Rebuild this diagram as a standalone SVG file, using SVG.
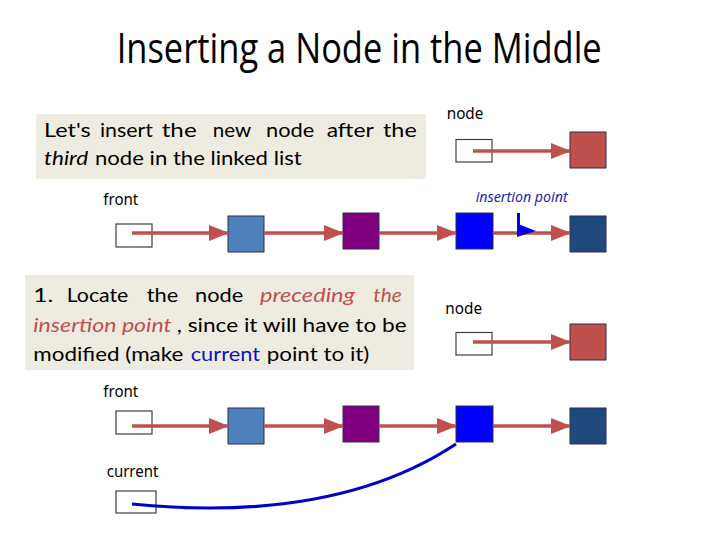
<svg xmlns="http://www.w3.org/2000/svg" width="720" height="540" viewBox="0 0 720 540">
<style>
.title{font-family:"Open Sans","Liberation Sans",sans-serif;font-size:42px;fill:#000}
.body{font-family:Lato,"Open Sans","Liberation Sans",sans-serif;font-size:20px;fill:#000}
.lbl{font-family:"Noto Sans","DejaVu Sans",sans-serif;font-size:16px;fill:#000}
.it{font-style:italic}
.red{fill:#C0504D}
.blu{fill:#1010C8}
.ptr{fill:#fff;stroke:#404040;stroke-width:1.2}
.nd{stroke:#2f2f4f;stroke-width:1}
.tb{fill:#EEECE1}
.arr{stroke:#C0504D;stroke-width:3.5;fill:none;marker-end:url(#ah)}
</style>
<defs>
<marker id="ah" markerUnits="userSpaceOnUse" markerWidth="20" markerHeight="16" viewBox="0 0 20 16" refX="19" refY="8" orient="auto">
<path d="M0,0 L20,8 L0,16 Z" fill="#C0504D"/>
</marker>
</defs>
<rect width="720" height="540" fill="#fff"/>
<text class="title" x="116.7" y="63" textLength="485" lengthAdjust="spacingAndGlyphs">Inserting a Node in the Middle</text>

<g id="textbox1">
<rect class="tb" x="36" y="114" width="390" height="65"/>
<text class="body" y="137"><tspan x="44" textLength="46.7" lengthAdjust="spacingAndGlyphs">Let's</tspan> <tspan x="100" textLength="53" lengthAdjust="spacingAndGlyphs">insert</tspan> <tspan x="161.7" textLength="35" lengthAdjust="spacingAndGlyphs">the</tspan> <tspan x="212.7" textLength="38" lengthAdjust="spacingAndGlyphs">new</tspan> <tspan x="266" textLength="48.3" lengthAdjust="spacingAndGlyphs">node</tspan> <tspan x="326.7" textLength="46.6" lengthAdjust="spacingAndGlyphs">after</tspan> <tspan x="383" textLength="33.7" lengthAdjust="spacingAndGlyphs">the</tspan></text>
<text class="body" y="165"><tspan class="it" x="44" textLength="44.3" lengthAdjust="spacingAndGlyphs">third</tspan> <tspan x="95" textLength="206.7" lengthAdjust="spacingAndGlyphs">node in the linked list</tspan></text>
</g>

<g id="textbox2">
<rect class="tb" x="25" y="275" width="389" height="95"/>
<text class="body" y="301.7"><tspan x="33.3" textLength="20" lengthAdjust="spacingAndGlyphs">1.</tspan> <tspan x="66.7" textLength="61.6" lengthAdjust="spacingAndGlyphs">Locate</tspan> <tspan x="146.7" textLength="31.6" lengthAdjust="spacingAndGlyphs">the</tspan> <tspan x="195" textLength="48.3" lengthAdjust="spacingAndGlyphs">node</tspan> <tspan class="it red" x="260" textLength="95" lengthAdjust="spacingAndGlyphs">preceding</tspan> <tspan class="it red" x="373.3" textLength="28.4" lengthAdjust="spacingAndGlyphs">the</tspan></text>
<text class="body" y="331.5"><tspan class="it red" x="33.3" textLength="138.4" lengthAdjust="spacingAndGlyphs">insertion point</tspan> <tspan x="176.7" textLength="230" lengthAdjust="spacingAndGlyphs">, since it will have to be</tspan></text>
<text class="body" y="360.5"><tspan x="33.3" textLength="150" lengthAdjust="spacingAndGlyphs">modified (make</tspan> <tspan class="blu" x="190.7" textLength="69.3" lengthAdjust="spacingAndGlyphs">current</tspan> <tspan x="266.7" textLength="102.6" lengthAdjust="spacingAndGlyphs">point to it)</tspan></text>
</g>

<g id="labels">
<text class="lbl" x="446.7" y="119" textLength="36.7" lengthAdjust="spacingAndGlyphs">node</text>
<text class="lbl" x="103.3" y="205" textLength="35" lengthAdjust="spacingAndGlyphs">front</text>
<text class="lbl it" x="475.7" y="202" textLength="92" lengthAdjust="spacingAndGlyphs" style="font-size:14px;fill:#1F1FB0">insertion point</text>
<text class="lbl" x="445.3" y="314" textLength="36.7" lengthAdjust="spacingAndGlyphs">node</text>
<text class="lbl" x="103.3" y="397" textLength="35" lengthAdjust="spacingAndGlyphs">front</text>
<text class="lbl" x="106.7" y="476.7" textLength="51.7" lengthAdjust="spacingAndGlyphs">current</text>
</g>

<g id="newptr"><rect class="ptr" x="456" y="139.5" width="36" height="22.5"/></g>
<g id="newnode"><rect class="nd" x="570" y="132" width="36" height="36" fill="#C0504D"/></g>

<g id="front1"><rect class="ptr" x="116" y="224" width="36" height="23"/></g>
<g id="t_n1"><rect class="nd" x="228" y="216" width="36" height="36" fill="#4F81BD"/></g>
<g id="t_n2"><rect class="nd" x="343" y="213" width="36" height="36" fill="#800080"/></g>
<g id="t_n3"><rect class="nd" x="456" y="213" width="37" height="36" fill="#0000FF"/></g>
<g id="t_n4"><rect class="nd" x="570" y="216" width="36" height="36" fill="#1F497D"/></g>

<g id="newptr2"><rect class="ptr" x="456" y="332.5" width="36" height="22.5"/></g>
<g id="newnode2"><rect class="nd" x="570" y="324" width="36" height="36" fill="#C0504D"/></g>

<g id="front2"><rect class="ptr" x="116" y="411" width="36" height="23"/></g>
<g id="b_n1"><rect class="nd" x="228" y="408" width="36" height="36" fill="#4F81BD"/></g>
<g id="b_n2"><rect class="nd" x="343" y="406" width="36" height="36" fill="#800080"/></g>
<g id="b_n3"><rect class="nd" x="456" y="406" width="37" height="36" fill="#0000FF"/></g>
<g id="b_n4"><rect class="nd" x="570" y="408" width="36" height="36" fill="#1F497D"/></g>
<g id="currentptr"><rect class="ptr" x="116" y="491" width="40" height="22"/></g>

<g id="connectors">
<line class="arr" x1="473" y1="151" x2="570" y2="151"/>
<line class="arr" x1="132" y1="233" x2="228" y2="233"/>
<line class="arr" x1="264" y1="233" x2="343" y2="233"/>
<line class="arr" x1="379" y1="233" x2="456" y2="233"/>
<line class="arr" x1="493" y1="233" x2="570" y2="233"/>
<line class="arr" x1="473" y1="342" x2="570" y2="342"/>
<line class="arr" x1="132" y1="426" x2="228" y2="426"/>
<line class="arr" x1="264" y1="426" x2="343" y2="426"/>
<line class="arr" x1="379" y1="426" x2="456" y2="426"/>
<line class="arr" x1="493" y1="426" x2="570" y2="426"/>
<path d="M132,504 Q335,524 456,444" fill="none" stroke="#0000CC" stroke-width="3.2"/>
</g>

<g id="insertion-flag">
<line x1="518.5" y1="213" x2="518.5" y2="236" stroke="#0000EE" stroke-width="3"/>
<path d="M517,223.5 L536,231 L517,237 Z" fill="#0000EE"/>
</g>
</svg>
